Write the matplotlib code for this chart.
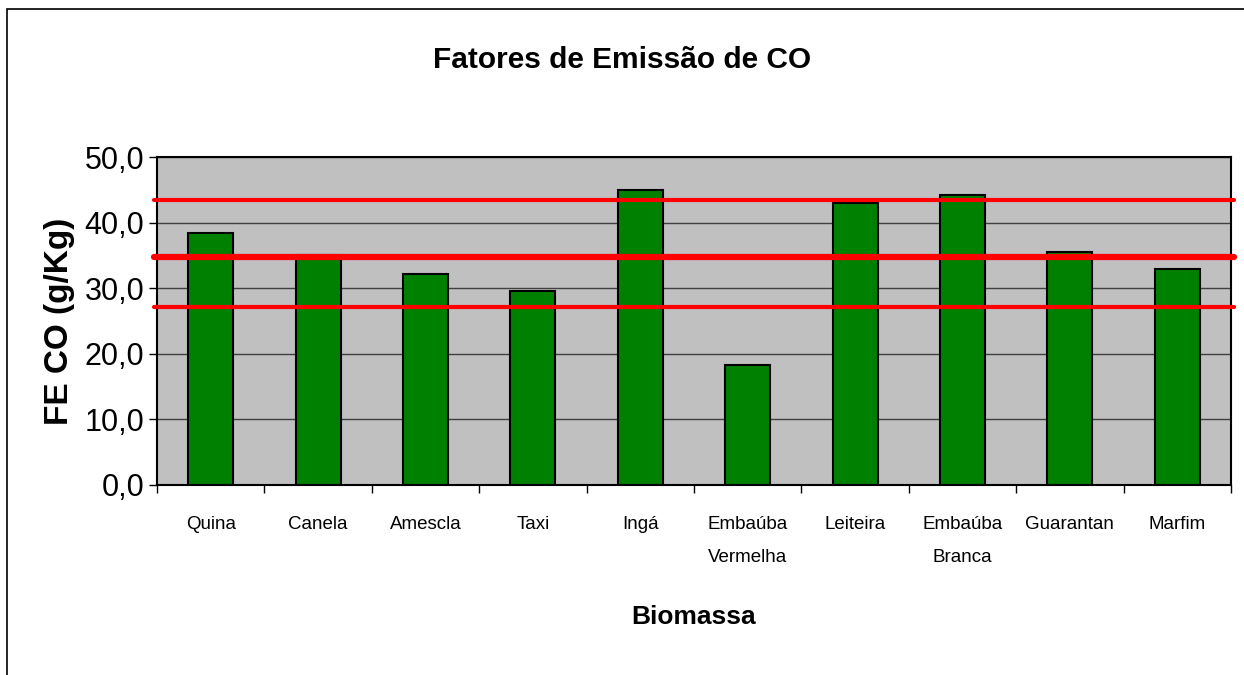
import matplotlib
matplotlib.use("Agg")
import matplotlib.pyplot as plt
from matplotlib.patches import Rectangle
import numpy as np

categories = ["Quina", "Canela", "Amescla", "Taxi", "Ingá", "Embaúba\nVermelha",
              "Leiteira", "Embaúba\nBranca", "Guarantan", "Marfim"]
values = [38.4, 35.1, 32.2, 29.6, 45.0, 18.3, 43.0, 44.2, 35.5, 32.9]
ref_lines = [43.4, 34.7, 27.1]
ref_widths = [3.0, 4.5, 3.0]
yticks = [0, 10, 20, 30, 40, 50]
ytick_labels = ["0,0", "10,0", "20,0", "30,0", "40,0", "50,0"]

plt.rcParams['font.family'] = ['Liberation Sans', 'DejaVu Sans']

fig = plt.figure(figsize=(12.44, 6.75), dpi=100)
fig.patch.set_facecolor("white")
ax = fig.add_axes([157/1244, 1-485/675, (1231-157)/1244, (485-157)/675])
ax.set_facecolor("#C0C0C0")

x = np.arange(len(categories))
ax.set_axisbelow(True)
ax.yaxis.grid(True, color="#404040", linewidth=1.0)
ax.bar(x, values, width=0.42, color="#008000", edgecolor="black", linewidth=1.5, zorder=2)

for v, w in zip(ref_lines, ref_widths):
    ax.axhline(v, xmin=-0.003, xmax=1.003, color="#FF0000", linewidth=w,
               clip_on=False, zorder=3, solid_capstyle="round")

ax.set_xlim(-0.5, len(categories) - 0.5)
ax.set_ylim(0, 50)
ax.set_yticks(yticks)
ax.set_yticklabels(ytick_labels, fontsize=22)
ax.set_xticks(x)
ax.set_xticklabels(categories, fontsize=13.5, linespacing=2.3, va="top")
ax.tick_params(axis="x", which="major", length=0, pad=22)
ax.set_xticks(np.arange(-0.5, len(categories), 1.0), minor=True)
ax.tick_params(axis="x", which="minor", length=6, width=1, direction="out")
ax.tick_params(axis="y", length=6, width=1, direction="out", pad=3)

for s in ax.spines.values():
    s.set_color("black")
    s.set_linewidth(1.5)

ax.set_ylabel("FE CO (g/Kg)", fontsize=24, fontweight="bold", labelpad=7)
ax.set_xlabel("Biomassa", fontsize=19, fontweight="bold", labelpad=28)
fig.text(0.5, 1-60/675, "Fatores de Emissão de CO", ha="center", va="center",
         fontsize=21.5, fontweight="bold")

fig.add_artist(Rectangle((7/1244, -0.1), 1.2, 1-9/675+0.1, transform=fig.transFigure,
                         fill=False, edgecolor="black", linewidth=1.2))

fig.savefig("out.png", dpi=100, facecolor="white")
